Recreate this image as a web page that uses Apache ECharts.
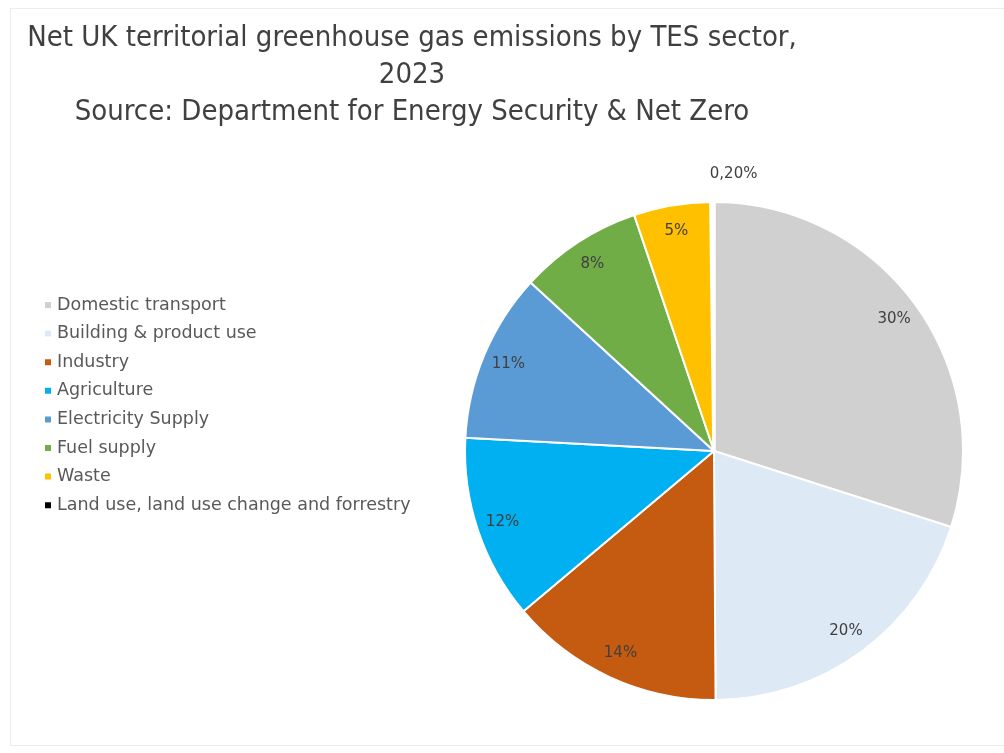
<!DOCTYPE html>
<html>
<head>
<meta charset="utf-8">
<script src="https://cdn.jsdelivr.net/npm/echarts@6/dist/echarts.min.js"></script>
<style>
  html, body { margin: 0; padding: 0; background: #ffffff; }
  #chart { width: 1004px; height: 753px; }
</style>
</head>
<body>
<div id="chart"></div>
<script>
// Net UK territorial GHG emissions by TES sector, 2023 (share of total, %)
const sectors = [
  'Domestic transport',
  'Building & product use',
  'Industry',
  'Agriculture',
  'Electricity Supply',
  'Fuel supply',
  'Waste',
  'Land use, land use change and forrestry'
];
const shares = [30, 20, 14, 12, 11, 8, 5, 0.2];
const shareLabels = ['30%', '20%', '14%', '12%', '11%', '8%', '5%', '0,20%'];
const sectorColors = ['#d0d0d0', '#dde9f5', '#c55a11', '#00b0f0', '#5b9bd5', '#70ad47', '#ffc000', '#000000'];

const titleLines = [
  'Net UK territorial greenhouse gas emissions by TES sector,',
  '2023',
  'Source: Department for Energy Security & Net Zero'
];

const TITLE_FONT = '"DejaVu Sans Condensed", "Liberation Sans Narrow", sans-serif';
const BODY_FONT = '"DejaVu Sans", sans-serif';
const center = [714, 451];
const R = 249;

const pieData = sectors.map((name, i) => ({
  name,
  value: shares[i],
  itemStyle: i === sectors.length - 1
    ? { color: sectorColors[i], borderWidth: 3.5 }
    : { color: sectorColors[i] }
}));

const labelData = sectors.map((name, i) => ({
  name,
  value: shares[i],
  label: { formatter: shareLabels[i] }
}));

const chart = echarts.init(document.getElementById('chart'), null, { renderer: 'canvas' });
chart.setOption({
  backgroundColor: '#ffffff',
  animation: false,
  graphic: [{
    type: 'rect',
    shape: { x: 10.5, y: 8.5, width: 1000, height: 737 },
    style: { fill: 'none', stroke: '#ececec', lineWidth: 1 },
    silent: true
  }],
  title: {
    text: titleLines.join('\n'),
    left: 407,
    top: 15,
    textAlign: 'center',
    textStyle: {
      fontFamily: TITLE_FONT,
      fontSize: 29,
      fontWeight: 'normal',
      color: '#404040',
      lineHeight: 37
    }
  },
  legend: {
    orient: 'vertical',
    left: 38,
    top: 290,
    itemWidth: 8,
    itemHeight: 8,
    itemGap: 8.6,
    icon: 'rect',
    data: sectors,
    textStyle: {
      fontFamily: BODY_FONT,
      fontSize: 17.5,
      lineHeight: 20,
      color: '#595959'
    }
  },
  series: [
    {
      type: 'pie',
      center: center,
      radius: [0, R],
      startAngle: 90,
      clockwise: true,
      silent: true,
      label: { show: false },
      labelLine: { show: false },
      itemStyle: { borderColor: '#ffffff', borderWidth: 2 },
      data: pieData
    },
    {
      // transparent ring carrying the percentage labels near the rim
      type: 'pie',
      center: center,
      radius: [R - 58, R],
      startAngle: 90,
      clockwise: true,
      silent: true,
      itemStyle: { color: 'rgba(0,0,0,0)' },
      label: {
        show: true,
        position: 'inside',
        fontFamily: BODY_FONT,
        fontSize: 15,
        color: '#404040'
      },
      labelLine: { show: false },
      labelLayout: function (params) {
        if (params.dataIndex === sectors.length - 1) {
          return { dx: 21, dy: -54 };
        }
        return {};
      },
      data: labelData
    }
  ]
});
</script>
</body>
</html>
